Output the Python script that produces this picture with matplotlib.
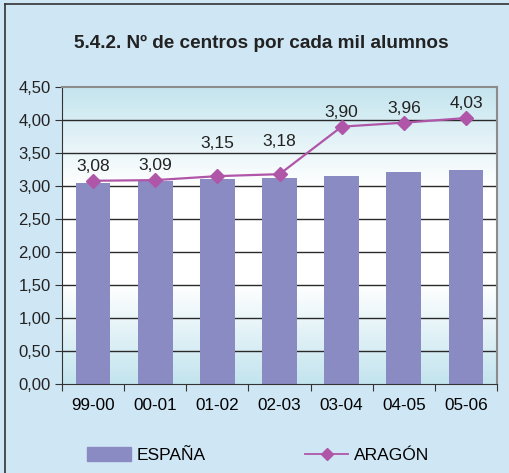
import matplotlib.pyplot as plt
import numpy as np
from matplotlib.colors import LinearSegmentedColormap
from matplotlib.lines import Line2D
from matplotlib.patches import Patch

plt.rcParams['font.family'] = ['Liberation Sans', 'DejaVu Sans']

cursos = ['99-00', '00-01', '01-02', '02-03', '03-04', '04-05', '05-06']
espana = [3.04, 3.08, 3.11, 3.12, 3.15, 3.21, 3.24]
aragon = [3.08, 3.09, 3.15, 3.18, 3.90, 3.96, 4.03]
etiquetas = ['3,08', '3,09', '3,15', '3,18', '3,90', '3,96', '4,03']
yticks = np.arange(0, 4.51, 0.5)

fig = plt.figure(figsize=(5.10, 4.73), dpi=100)
fig.patch.set_facecolor('#cfe6f4')
# top/left border of the frame
fig.add_artist(Line2D([0.009, 1.0], [0.991, 0.991], color='#333333', lw=1.2))
fig.add_artist(Line2D([0.009, 0.009], [0.0, 0.991], color='#333333', lw=1.2))

ax = fig.add_axes([0.1216, 0.188, 0.853, 0.628])
x = np.arange(len(cursos))

# background gradient: blue at top and bottom, white in middle
cmap = LinearSegmentedColormap.from_list('bg', ['#c3e4ee', '#ffffff', '#ffffff', '#c3e4ee'])
grad = np.linspace(0, 1, 256).reshape(-1, 1)
ax.imshow(grad, extent=[-0.5, 6.5, 0, 4.5], aspect='auto', cmap=cmap, zorder=0)

for yv in yticks[1:-1]:
    ax.axhline(yv, color='#2a2a2a', lw=1.0, zorder=1)

ax.bar(x, espana, width=0.56, color='#8a8bc3', zorder=2, label='ESPAÑA')
ax.plot(x, aragon, color='#b056a8', lw=1.6, marker='D', markersize=7,
        zorder=3, label='ARAGÓN')

offsets = [5, 5, 18, 18, 5, 5, 5]
for xi, yi, lab, off in zip(x, aragon, etiquetas, offsets):
    ax.annotate(lab, (xi, yi), xytext=(0, off), textcoords='offset points',
                ha='center', va='bottom', fontsize=12.5, color='#222222')

ax.set_xlim(-0.5, 6.5)
ax.set_ylim(0, 4.5)
ax.set_yticks(yticks)
ax.set_yticklabels([f'{v:.2f}'.replace('.', ',') for v in yticks], fontsize=12)
ax.set_xticks(np.arange(-0.5, 7, 1))
ax.set_xticklabels([])
ax.set_xticks(x, minor=True)
ax.set_xticklabels(cursos, minor=True, fontsize=12.3)
ax.tick_params(axis='x', which='minor', length=0, pad=10)
ax.tick_params(axis='x', which='major', length=5, color='#333333')
ax.tick_params(axis='y', length=5, color='#333333', pad=3, colors='#222222')
ax.tick_params(axis='y', color='#333333')
for s in ['top', 'right']:
    ax.spines[s].set_color('#8c8c8c')
    ax.spines[s].set_linewidth(1.5)
for s in ['left', 'bottom']:
    ax.spines[s].set_color('#333333')

fig.text(0.513, 0.909, '5.4.2. Nº de centros por cada mil alumnos', ha='center',
         va='center', fontsize=13.7, fontweight='bold', color='#222222')

handles = [Patch(color='#8a8bc3'),
           Line2D([], [], color='#b056a8', lw=1.3, marker='D', markersize=6)]
fig.legend(handles, ['ESPAÑA', 'ARAGÓN'], loc='center', bbox_to_anchor=(0.507, 0.038),
           ncol=2, frameon=False, fontsize=12.5, handlelength=2.5,
           handleheight=0.9, columnspacing=5.7, handletextpad=0.35)

fig.savefig('out.png', dpi=100, facecolor=fig.get_facecolor())
